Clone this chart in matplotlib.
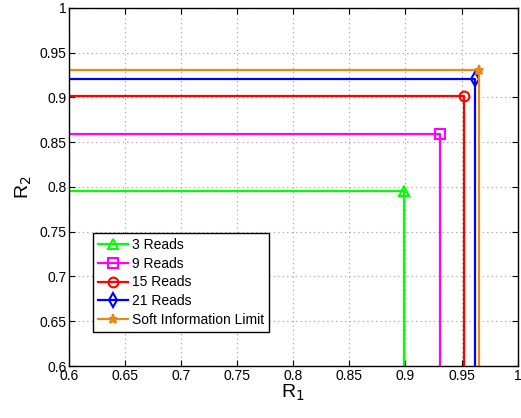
import matplotlib
matplotlib.use("Agg")
import matplotlib.pyplot as plt

plt.rcParams['font.family'] = ['Liberation Sans', 'DejaVu Sans']

labels = ['3 Reads', '9 Reads', '15 Reads', '21 Reads', 'Soft Information Limit']
r1 = [0.899, 0.931, 0.952, 0.962, 0.966]
r2 = [0.795, 0.859, 0.901, 0.921, 0.930]
colors = ['#00FF00', '#FF00FF', '#FF0000', '#0000FF', '#E6891A']
markers = ['^', 's', 'o', 'd', '*']
x_ticks = [0.6, 0.65, 0.7, 0.75, 0.8, 0.85, 0.9, 0.95, 1]
y_ticks = [0.6, 0.65, 0.7, 0.75, 0.8, 0.85, 0.9, 0.95, 1]
tick_txt = ['0.6', '0.65', '0.7', '0.75', '0.8', '0.85', '0.9', '0.95', '1']

fig = plt.figure(figsize=(5.21, 4.18), dpi=100)
ax = fig.add_axes([0.1325, 0.1244, 0.861, 0.857])

for lab, x, y, c, m in zip(labels, r1, r2, colors, markers):
    ax.plot([0.6, x, x], [y, y, 0.6], color=c, lw=1.6, marker=m,
            markevery=[1], markersize=7 if m != '*' else 6.5,
            markerfacecolor='none' if m != '*' else c,
            markeredgewidth=1.5, label=lab)

ax.set_xlim(0.6, 1)
ax.set_ylim(0.6, 1)
ax.set_xticks(x_ticks)
ax.set_xticklabels(tick_txt)
ax.set_yticks(y_ticks)
ax.set_yticklabels(tick_txt)
ax.tick_params(direction='in', top=True, right=True, labelsize=10, length=4, pad=2)
ax.grid(True, linestyle=(0, (1, 3)), color='#999999', lw=0.8)
for s in ax.spines.values():
    s.set_linewidth(1.0)

ax.set_xlabel('R$_1$', fontsize=14, labelpad=0)
ax.set_ylabel('R$_2$', fontsize=14, labelpad=4)

leg = ax.legend(loc='lower left', bbox_to_anchor=(0.053, 0.095), borderaxespad=0,
                fancybox=False, framealpha=1, edgecolor='black', fontsize=10,
                handlelength=2.2, handletextpad=0.3, labelspacing=0.35,
                borderpad=0.35)
leg.get_frame().set_linewidth(1.0)

fig.savefig('out.png', dpi=100)
